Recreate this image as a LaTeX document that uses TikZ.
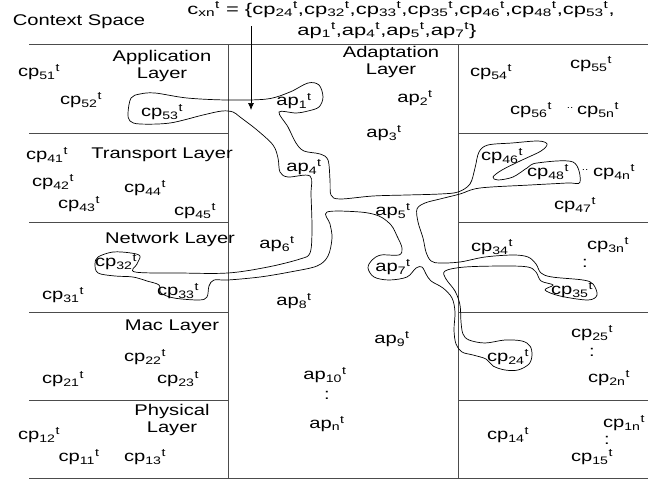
\documentclass[tikz,border=0pt]{standalone}
\usepackage{fontspec}
\setmainfont[FakeStretch=1.3]{Liberation Sans}
\usetikzlibrary{arrows.meta}
\newcommand{\CPt}[1]{cp\textsubscript{#1}\textsuperscript{t}}
\newcommand{\APt}[1]{ap\textsubscript{#1}\textsuperscript{t}}
\begin{document}
\begin{tikzpicture}[x=1pt,y=-1pt,
  grid/.style={draw=black!70, line width=0.8pt},
  lbl/.style={inner sep=0pt, font=\fontsize{15.5}{17}\selectfont},
  fml/.style={lbl, text height=9pt, text depth=3pt},
  ttl/.style={lbl, align=center},
  dotlbl/.style={inner sep=0pt, font=\fontsize{9}{9}\selectfont},
  blob/.style={draw=black, line width=0.7pt},
  pointer/.style={draw=black, line width=0.7pt, -{Latex[length=7pt,width=6pt]}}]
\useasboundingbox (0,0) rectangle (648,479);

% grid
\draw[grid] (29,44) -- (648,44);
\draw[grid] (29,478) -- (648,478);
\draw[grid] (228,44) -- (228,478);
\draw[grid] (458,44) -- (458,478);
\foreach \yy in {133,222,312,400}{
  \draw[grid] (29,\yy) -- (228,\yy);
  \draw[grid] (458,\yy) -- (648,\yy);
}

% titles
\node[lbl] (ctx) at (79,22) {Context Space};
\node[fml] (fl1) at (401,11) {\scalebox{1.09}[1]{c\textsubscript{xn}\textsuperscript{t} = \{\CPt{24},\CPt{32},\CPt{33},\CPt{35},\CPt{46},\CPt{48},\CPt{53},}};
\node[fml] (fl2) at (387,32) {\scalebox{1.09}[1]{\APt{1},\APt{4},\APt{5},\APt{7}\}}};

\node[ttl] (applayer) at (162,66) {Application\\Layer};
\node[ttl] (adaplayer) at (391,62) {Adaptation\\Layer};
\node[lbl] (translayer) at (162,155) {Transport Layer};
\node[lbl] (netlayer) at (170,239) {Network Layer};
\node[lbl] (maclayer) at (172,327) {Mac Layer};
\node[ttl] (phylayer) at (172,420) {Physical\\Layer};

% left column
\node[lbl] (cp51) at (39,72) {\CPt{51}};
\node[lbl] (cp52) at (81,100) {\CPt{52}};
\node[lbl] (cp53) at (162,112) {\CPt{53}};
\node[lbl] (cp41) at (47,155) {\CPt{41}};
\node[lbl] (cp42) at (53,182) {\CPt{42}};
\node[lbl] (cp44) at (145,188) {\CPt{44}};
\node[lbl] (cp43) at (79,204) {\CPt{43}};
\node[lbl] (cp45) at (195,211) {\CPt{45}};
\node[lbl] (cp32) at (116,262) {\CPt{32}};
\node[lbl] (cp31) at (63,295) {\CPt{31}};
\node[lbl] (cp33) at (178,291) {\CPt{33}};
\node[lbl] (cp22) at (145,357) {\CPt{22}};
\node[lbl] (cp21) at (63,379) {\CPt{21}};
\node[lbl] (cp23) at (178,379) {\CPt{23}};
\node[lbl] (cp12) at (39,435) {\CPt{12}};
\node[lbl] (cp11) at (79,457) {\CPt{11}};
\node[lbl] (cp13) at (145,457) {\CPt{13}};

% middle column
\node[lbl] (ap1) at (294,101) {\APt{1}};
\node[lbl] (ap2) at (415,98) {\APt{2}};
\node[lbl] (ap3) at (384,133) {\APt{3}};
\node[lbl] (ap4) at (304,167) {\APt{4}};
\node[lbl] (ap5) at (393,211) {\APt{5}};
\node[lbl] (ap6) at (277,244) {\APt{6}};
\node[lbl] (ap7) at (393,267) {\APt{7}};
\node[lbl] (ap8) at (294,301) {\APt{8}};
\node[lbl] (ap9) at (392,339) {\APt{9}};
\node[lbl] (ap10) at (325,375) {\APt{10}};
\node[lbl] (col1) at (327,395) {:};
\node[lbl] (apn) at (327,424) {\APt{n}};

% right column
\node[lbl] (cp54) at (491,72) {\CPt{54}};
\node[lbl] (cp55) at (591,64) {\CPt{55}};
\node[lbl] (cp56) at (531,110) {\CPt{56}};
\node[dotlbl] (dot5) at (570,108) {..};
\node[lbl] (cp5n) at (598,110) {\CPt{5n}};
\node[lbl] (cp46) at (502,156) {\CPt{46}};
\node[lbl] (cp48) at (548,172) {\CPt{48}};
\node[dotlbl] (dot4) at (585,170) {..};
\node[lbl] (cp4n) at (614,172) {\CPt{4n}};
\node[lbl] (cp47) at (575,205) {\CPt{47}};
\node[lbl] (cp34) at (492,247) {\CPt{34}};
\node[lbl] (cp3n) at (608,245) {\CPt{3n}};
\node[lbl] (col2) at (585,263) {:};
\node[lbl] (cp35) at (572,290) {\CPt{35}};
\node[lbl] (cp25) at (592,333) {\CPt{25}};
\node[lbl] (col3) at (592,352) {:};
\node[lbl] (cp2n) at (609,378) {\CPt{2n}};
\node[lbl] (cp24) at (508,357) {\CPt{24}};
\node[lbl] (cp14) at (508,435) {\CPt{14}};
\node[lbl] (cp1n) at (624,423) {\CPt{1n}};
\node[lbl] (col4) at (607,440) {:};
\node[lbl] (cp15) at (592,457) {\CPt{15}};

% pointer arrow
\coordinate (arrowtip) at (251,110);
\draw[pointer] ([yshift=-9pt]fl1.south -| arrowtip) -- (arrowtip);

% context blob
\draw[blob] plot[smooth cycle, tension=0.55] coordinates {
(128,113) (131,98) (140,94) (155,93) (187,98) (227,100) (267,99) (290,92) (308,83) (319,85) (323,97) (319,107) (308,111) (296,113) (279,112)
(288,127) (296,143) (304,151) (320,154) (328,160) (330,180) (331,195) (340,199) (373,196) (407,195) (440,194) (458,192) (470,184) (475,168) (479,152) (488,145) (512,143) (538,141) (547,144) (541,151) (520,161) (502,170) (493,177) (498,180) (513,177) (527,168) (537,163) (573,162) (580,182) (567,183) (530,185) (480,188) (460,194) (440,199) (425,203) (417,209) (418,222) (423,238) (426,252) (431,261) (440,263) (460,262) (485,257) (513,255) (528,257) (536,264) (541,273) (552,277) (583,280) (593,284) (597,295) (588,300) (560,296) (545,290) (553,285) (541,281) (536,272) (528,267) (505,266) (465,267) (445,271)
(446,279) (455,291) (460,305) (461,322) (463,334) (469,340) (485,343) (505,340) (522,341) (530,346) (532,355) (529,364) (518,370) (505,370) (493,366) (486,359) (473,355) (462,352) (456,344) (454,330) (455,312) (452,298) (443,288) (431,281) (426,274) (422,267)
(416,268) (407,277) (389,280) (374,277) (368,268) (372,260) (381,255) (399,255) (402,248) (397,236) (391,225) (379,216) (360,212) (327,212) (330,224) (332,238) (328,256) (317,266) (290,272) (260,277) (228,280) (214,280) (209,286) (207,297) (199,300) (174,298) (161,293) (159,285) (147,281) (133,277) (115,276) (98,273) (95,264) (98,257) (113,252) (131,253) (140,256) (137,264) (135,272) (180,273) (228,273) (268,267) (300,259) (310,253) (312,230) (311,195) (310,176) (288,177) (280,172) (278,158) (273,145) (257,130) (240,117) (233,112) (222,111) (203,115) (170,123) (140,124) (130,121)
};
\end{tikzpicture}
\end{document}
